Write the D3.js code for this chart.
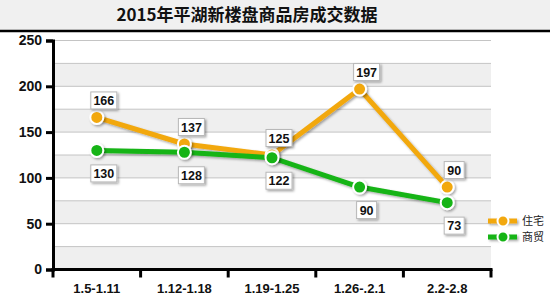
<!DOCTYPE html>
<html>
<head>
<meta charset="utf-8">
<script src="https://cdn.jsdelivr.net/npm/d3@7"></script>
<style>
  body { margin: 0; background: #fff; }
  svg { display: block; font-family: Arial, "Liberation Sans", sans-serif; }
</style>
</head>
<body>
<div id="chart"></div>
<script>
const categories = ['1.5-1.11', '1.12-1.18', '1.19-1.25', '1.26-.2.1', '2.2-2.8'];
const zhuzhai = [166, 137, 125, 197, 90];
const shangmao = [130, 128, 122, 90, 73];
const yTicks = [0, 50, 100, 150, 200, 250];
const seriesNames = ['住宅', '商贸'];
const colors = ['#f2a80f', '#14b414'];

const W = 550, H = 306;
const margin = { top: 40.5, right: 59, bottom: 36.5, left: 53 };
const width = W - margin.left - margin.right;
const height = H - margin.top - margin.bottom;

const svg = d3.select('#chart').append('svg')
  .attr('width', W)
  .attr('height', H);

// Drop shadow, with a big region in user space so thin shapes keep it
const defs = svg.append('defs');
const shadow = defs.append('filter').attr('id', 'shadow')
  .attr('filterUnits', 'userSpaceOnUse')
  .attr('x', -600).attr('y', -400).attr('width', 1800).attr('height', 1200);
shadow.append('feDropShadow')
  .attr('dx', 1.5).attr('dy', 1.5).attr('stdDeviation', 1.2)
  .attr('flood-color', '#000').attr('flood-opacity', 0.35);

// Title band
svg.append('rect')
  .attr('x', 0).attr('y', 0).attr('width', W).attr('height', 30)
  .attr('fill', '#f0f0f0');
svg.append('line')
  .attr('x1', 0).attr('x2', W).attr('y1', 31).attr('y2', 31)
  .attr('stroke', '#000').attr('stroke-width', 2.5);
svg.append('text')
  .attr('x', 247).attr('y', 21)
  .attr('text-anchor', 'middle')
  .style('font-family', '"Noto Sans CJK SC", Arial, sans-serif')
  .style('font-size', '17px')
  .style('font-weight', '700')
  .style('fill', '#111')
  .text('2015年平湖新楼盘商品房成交数据');

const g = svg.append('g')
  .attr('transform', `translate(${margin.left},${margin.top})`);

const x = d3.scaleBand().domain(categories).range([0, width]);
const y = d3.scaleLinear().domain([0, 250]).range([height, 0]);

// Alternating bands
const bandEdges = d3.range(0, 250, 25);
g.selectAll('.band')
  .data(bandEdges)
  .enter().append('rect')
  .attr('x', 0)
  .attr('width', width)
  .attr('y', d => y(d + 25))
  .attr('height', d => y(d) - y(d + 25))
  .attr('fill', d => (d / 25) % 2 === 0 ? '#efefef' : '#ffffff');

// Grid lines
g.selectAll('.grid')
  .data(d3.range(25, 275, 25))
  .enter().append('line')
  .attr('x1', 0).attr('x2', width)
  .attr('y1', d => y(d)).attr('y2', d => y(d))
  .attr('stroke', '#c4c4c4').attr('stroke-width', 1);

// Y axis
const yAxis = g.append('g')
  .call(d3.axisLeft(y).tickValues(yTicks).tickSize(7).tickPadding(4));
yAxis.select('.domain').attr('stroke', '#000').attr('stroke-width', 3);
yAxis.selectAll('.tick line').attr('stroke', '#000').attr('stroke-width', 3);
yAxis.selectAll('text')
  .style('font-size', '14px').style('font-weight', '700').style('fill', '#111');

// X axis with ticks at band boundaries
const xAxis = g.append('g').attr('transform', `translate(0,${height})`);
xAxis.append('line')
  .attr('x1', -1.5).attr('x2', width + 1.5)
  .attr('stroke', '#000').attr('stroke-width', 3);
const boundaries = categories.map(c => x(c)).concat([width]);
xAxis.selectAll('.xt')
  .data(boundaries)
  .enter().append('line')
  .attr('x1', d => d).attr('x2', d => d)
  .attr('y1', 0).attr('y2', 8)
  .attr('stroke', '#000').attr('stroke-width', 3);
xAxis.selectAll('.xl')
  .data(categories)
  .enter().append('text')
  .attr('x', d => x(d) + x.bandwidth() / 2)
  .attr('y', 23)
  .attr('text-anchor', 'middle')
  .style('font-size', '13px').style('font-weight', '700').style('fill', '#111')
  .text(d => d);

const cx = d => x(d) + x.bandwidth() / 2;
const line = d3.line()
  .x((d, i) => cx(categories[i]))
  .y(d => y(d));

const series = [zhuzhai, shangmao];

series.forEach((vals, s) => {
  g.append('path')
    .datum(vals)
    .attr('d', line)
    .attr('fill', 'none')
    .attr('stroke', colors[s])
    .attr('stroke-width', 5)
    .attr('stroke-linejoin', 'round')
    .attr('filter', 'url(#shadow)');
});

series.forEach((vals, s) => {
  g.selectAll('.pt' + s)
    .data(vals)
    .enter().append('circle')
    .attr('cx', (d, i) => cx(categories[i]))
    .attr('cy', d => y(d))
    .attr('r', 6.5)
    .attr('fill', colors[s])
    .attr('stroke', '#fff')
    .attr('stroke-width', 2)
    .attr('filter', 'url(#shadow)');
});

// Value labels
series.forEach((vals, s) => {
  const off = s === 0 ? -17 : 23;
  const lab = g.selectAll('.lab' + s)
    .data(vals)
    .enter().append('g')
    .attr('transform', (d, i) => `translate(${cx(categories[i]) + 7},${y(d) + off})`);
  lab.append('rect')
    .attr('x', d => String(d).length > 2 ? -13 : -10)
    .attr('width', d => String(d).length > 2 ? 26 : 20)
    .attr('y', -8.5).attr('height', 17)
    .attr('fill', '#fff')
    .attr('stroke', '#b8b8b8')
    .attr('stroke-width', 1)
    .attr('filter', 'url(#shadow)');
  lab.append('text')
    .attr('text-anchor', 'middle')
    .attr('y', 4.5)
    .style('font-size', '12.5px').style('font-weight', '700').style('fill', '#111')
    .text(d => d);
});

// Legend
const legend = svg.append('g').attr('transform', 'translate(488,221)');
seriesNames.forEach((name, s) => {
  const row = legend.append('g').attr('transform', `translate(0,${s * 16})`);
  row.append('rect')
    .attr('x', 0).attr('y', -2.5).attr('width', 29).attr('height', 5)
    .attr('fill', colors[s])
    .attr('filter', 'url(#shadow)');
  row.append('circle')
    .attr('cx', 15).attr('r', 5.5)
    .attr('fill', colors[s]).attr('stroke', '#fff').attr('stroke-width', 2);
  row.append('text')
    .attr('x', 34).attr('y', 4)
    .style('font-family', '"Noto Sans CJK SC", sans-serif')
    .style('font-size', '11px').style('fill', '#222')
    .text(name);
});
</script>
</body>
</html>
